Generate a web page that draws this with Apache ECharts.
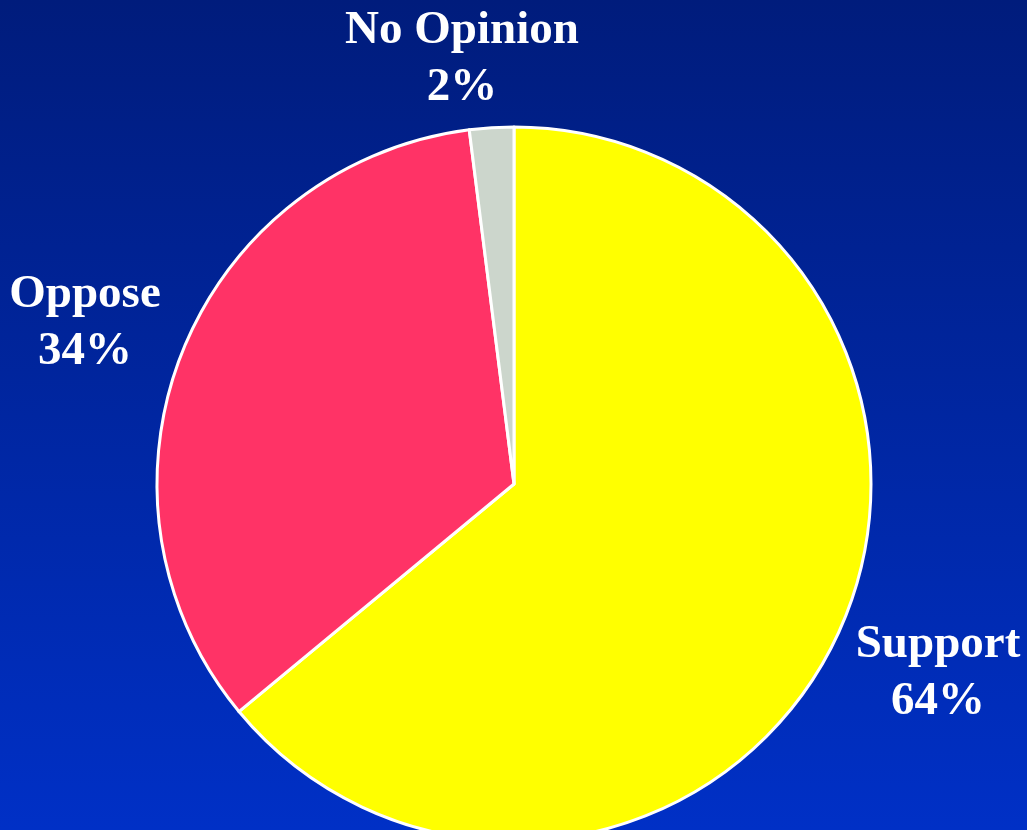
<!DOCTYPE html>
<html>
<head>
<meta charset="utf-8">
<script src="https://cdn.jsdelivr.net/npm/echarts@6/dist/echarts.min.js"></script>
<style>
  html, body { margin: 0; padding: 0; }
  #chart { width: 1027px; height: 830px; background: linear-gradient(to bottom, #001c7c 0%, #0030c6 100%); }
</style>
</head>
<body>
<div id="chart"></div>
<script>
const categories = ['Support', 'Oppose', 'No Opinion'];
const shares = [64, 34, 2];
const sliceColors = ['#ffff00', '#ff3366', '#ccd6cc'];

// where each two-line label block sits (center of block)
const labelSpots = {
  'Support': [938, 673],
  'Oppose': [85, 323],
  'No Opinion': [462, 59]
};

const chart = echarts.init(document.getElementById('chart'));

chart.setOption({
  backgroundColor: 'transparent',
  animation: false,
  series: [
    {
      type: 'pie',
      center: [514, 484],
      radius: 357,
      startAngle: 90,
      clockwise: true,
      data: categories.map((c, i) => ({
        name: c,
        value: shares[i],
        itemStyle: { color: sliceColors[i] }
      })),
      itemStyle: { borderColor: '#ffffff', borderWidth: 3 },
      label: {
        show: true,
        position: 'outside',
        formatter: '{b}\n{c}%',
        color: '#ffffff',
        fontFamily: '"Liberation Serif", "Times New Roman", serif',
        fontWeight: 'bold',
        fontSize: 47,
        lineHeight: 57,
        align: 'center',
        overflow: 'none'
      },
      labelLine: { show: false },
      labelLayout: (params) => {
        const name = categories[params.dataIndex];
        const p = labelSpots[name];
        return { x: p[0], y: p[1], align: 'center', verticalAlign: 'middle' };
      },
      emphasis: { disabled: true }
    }
  ]
});
</script>
</body>
</html>
